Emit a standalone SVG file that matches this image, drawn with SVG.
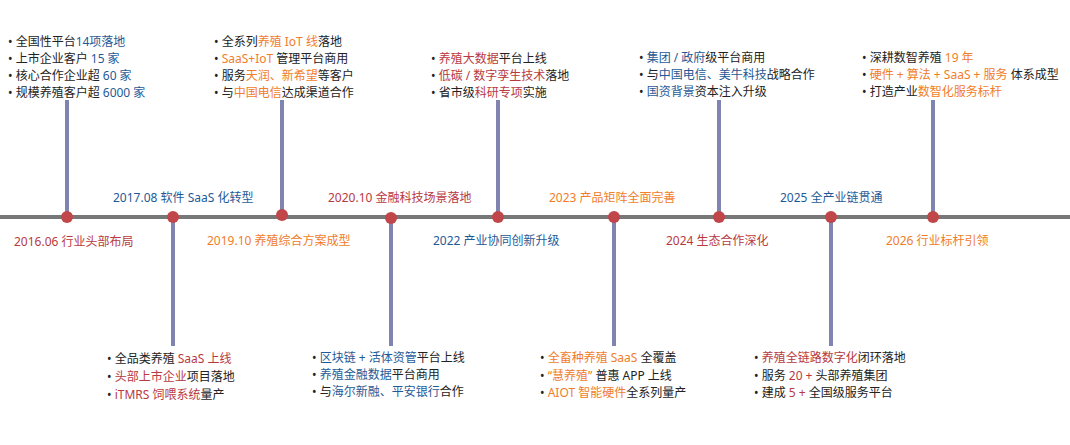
<svg xmlns="http://www.w3.org/2000/svg" width="1070" height="445" viewBox="0 0 1070 445">
<style>
text{font-family:"Noto Sans","Noto Sans CJK SC",sans-serif;font-size:12px;fill:#222;dominant-baseline:central}
.r{fill:#B8393F}.b{fill:#1F5A96}.o{fill:#F07D2A}
.stem{stroke:#7F84B0;stroke-width:4}
.dot{fill:#C0464A}
</style>
<rect width="1070" height="445" fill="#fff"/>
<line x1="0" y1="217" x2="1070" y2="217" stroke="#777" stroke-width="4"/>
<g id="connectors">
<line class="stem" x1="67" y1="100" x2="67" y2="217"/>
<line class="stem" x1="282" y1="100" x2="282" y2="217"/>
<line class="stem" x1="498" y1="100" x2="498" y2="217"/>
<line class="stem" x1="719" y1="100" x2="719" y2="217"/>
<line class="stem" x1="933" y1="100" x2="933" y2="217"/>
<line class="stem" x1="173" y1="217" x2="173" y2="346"/>
<line class="stem" x1="391" y1="217" x2="391" y2="346"/>
<line class="stem" x1="614" y1="217" x2="614" y2="346"/>
<line class="stem" x1="831" y1="217" x2="831" y2="346"/>
</g>
<g id="n2016"><circle class="dot" cx="67" cy="217" r="6"/><text x="14" y="241" class="r">2016.06  行业头部布局</text>
<text x="8" y="41">• 全国性平台<tspan class="b">14项落地</tspan></text>
<text x="8" y="58">• 上市企业客户 <tspan class="b">15 家</tspan></text>
<text x="8" y="75">• 核心合作企业超 <tspan class="b">60 家</tspan></text>
<text x="8" y="92">• 规模养殖客户超 <tspan class="b">6000 家</tspan></text></g>
<g id="n2017"><circle class="dot" cx="173" cy="217" r="6"/><text x="113" y="197" class="b">2017.08  软件 SaaS 化转型</text>
<text x="107" y="358">• 全品类养殖 <tspan class="r">SaaS 上线</tspan></text>
<text x="107" y="376">• <tspan class="r">头部上市企业</tspan>项目落地</text>
<text x="107" y="394">• <tspan class="r">iTMRS 饲喂系统</tspan>量产</text></g>
<g id="n2019"><circle class="dot" cx="282" cy="215" r="6"/><text x="207" y="240" class="o">2019.10  养殖综合方案成型</text>
<text x="214" y="41">• 全系列<tspan class="o">养殖 IoT 线</tspan>落地</text>
<text x="214" y="58">• <tspan class="o">SaaS+IoT</tspan> 管理平台商用</text>
<text x="214" y="75">• 服务<tspan class="o">天润、新希望</tspan>等客户</text>
<text x="214" y="92">• 与<tspan class="o">中国电信</tspan>达成渠道合作</text></g>
<g id="n2020"><circle class="dot" cx="391" cy="218" r="6"/><text x="328" y="197" class="r">2020.10  金融科技场景落地</text>
<text x="312" y="357">• <tspan class="b">区块链 + 活体资管</tspan>平台上线</text>
<text x="312" y="374">• <tspan class="b">养殖金融数据</tspan>平台商用</text>
<text x="312" y="391">• 与<tspan class="b">海尔新融、平安银行</tspan>合作</text></g>
<g id="n2022"><circle class="dot" cx="498" cy="217" r="6"/><text x="433" y="240" class="b">2022  产业协同创新升级</text>
<text x="431" y="58">• <tspan class="r">养殖大数据</tspan>平台上线</text>
<text x="431" y="75">• <tspan class="r">低碳 / 数字孪生技术</tspan>落地</text>
<text x="431" y="92">• 省市级<tspan class="r">科研专项</tspan>实施</text></g>
<g id="n2023"><circle class="dot" cx="614" cy="217" r="6"/><text x="549" y="197" class="o">2023  产品矩阵全面完善</text>
<text x="540" y="357">• <tspan class="o">全畜种养殖 SaaS</tspan> 全覆盖</text>
<text x="540" y="375">• <tspan class="o">“慧养殖”</tspan> 普惠 APP 上线</text>
<text x="540" y="392">• <tspan class="o">AIOT 智能硬件</tspan>全系列量产</text></g>
<g id="n2024"><circle class="dot" cx="719" cy="217" r="6"/><text x="666" y="240" class="r">2024  生态合作深化</text>
<text x="639" y="57">• <tspan class="b">集团 / 政府</tspan>级平台商用</text>
<text x="639" y="74">• 与<tspan class="b">中国电信、美牛科技</tspan>战略合作</text>
<text x="639" y="91">• <tspan class="b">国资背景</tspan>资本注入升级</text></g>
<g id="n2025"><circle class="dot" cx="831" cy="217" r="6"/><text x="780" y="197" class="b">2025  全产业链贯通</text>
<text x="754" y="357">• <tspan class="r">养殖全链路数字化</tspan>闭环落地</text>
<text x="754" y="375">• 服务 <tspan class="r">20 +</tspan> 头部养殖集团</text>
<text x="754" y="392">• 建成 <tspan class="r">5 +</tspan> 全国级服务平台</text></g>
<g id="n2026"><circle class="dot" cx="933" cy="217" r="6"/><text x="886" y="240" class="o">2026 行业标杆引领</text>
<text x="862" y="57">• 深耕数智养殖 <tspan class="o">19 年</tspan></text>
<text x="862" y="74">• <tspan class="o">硬件 + 算法 + SaaS + 服务</tspan> 体系成型</text>
<text x="862" y="91">• 打造产业<tspan class="o">数智化服务标杆</tspan></text></g>
</svg>
